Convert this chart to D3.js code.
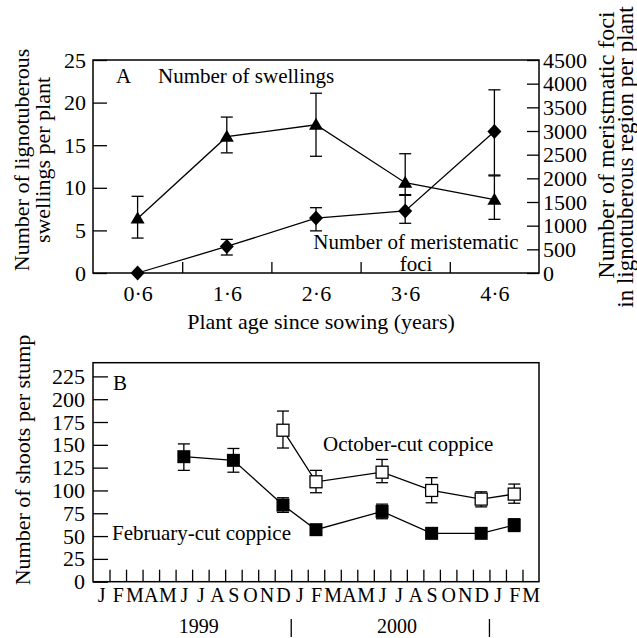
<!DOCTYPE html>
<html>
<head>
<meta charset="utf-8">
<script src="https://cdn.jsdelivr.net/npm/d3@7"></script>
<style>
  body { margin: 0; background: #fff; }
  svg { display: block; font-family: "Liberation Serif", "Times New Roman", serif; }
</style>
</head>
<body>
<svg id="chart" width="637" height="638"></svg>
<script>
// panel A data
var ages = [0.6, 1.6, 2.6, 3.6, 4.6];
var ageLabels = ["0·6", "1·6", "2·6", "3·6", "4·6"];
var swellings = [6.4, 16.0, 17.4, 10.6, 8.6];
var swellLo = [4.1, 14.1, 13.7, 9.2, 6.3];
var swellHi = [9.0, 18.3, 21.1, 14.0, 11.4];
var foci = [0, 560, 1160, 1310, 2990];
var fociLo = [0, 380, 890, 1050, 2070];
var fociHi = [0, 710, 1380, 1640, 3870];

// panel B data
var monthLabels = ["J","F","M","A","M","J","J","A","S","O","N","D",
                   "J","F","M","A","M","J","J","A","S","O","N","D",
                   "J","F","M"];
var years = ["1999", "2000"];
var febDates = ["1999-06","1999-09","1999-12","2000-02","2000-06","2000-09","2000-12","2001-02"];
var febCut = [137, 133, 84, 57, 77, 53, 53, 62];
var febLo  = [122, 120, 76, 54, 69, 51, 51, 55];
var febHi  = [151, 146, 92, 60, 85, 55, 55, 69];
var octDates = ["1999-12","2000-02","2000-06","2000-09","2000-12","2001-02"];
var octCut = [166, 109.5, 120, 100, 90.5, 96];
var octLo  = [146.5, 97.5, 108.5, 86.5, 82, 86];
var octHi  = [187, 122, 134, 114, 98.5, 107];

var svg = d3.select("#chart");
var left = 93, right = 539;

// month index (centre of the month), Jan 1999 = 0
function monthIndex(s) {
  var p = s.split("-").map(Number);
  return (p[0] - 1999) * 12 + (p[1] - 1) + 0.5;
}

function styleAxis(g, size) {
  g.attr("font-family", null).attr("font-size", size);
  g.selectAll("path.domain").remove();
  g.selectAll("line").attr("stroke", "#000").attr("stroke-width", 1.3);
  g.selectAll("text").attr("fill", "#000");
}

function errorBars(g, xs, lo, hi, x, y) {
  var eb = g.append("g").attr("stroke", "#000").attr("stroke-width", 1.3);
  xs.forEach(function(d, i) {
    if (lo[i] === hi[i]) return;
    var cx = x(d);
    eb.append("line").attr("x1", cx).attr("x2", cx).attr("y1", y(lo[i])).attr("y2", y(hi[i]));
    eb.append("line").attr("x1", cx - 6).attr("x2", cx + 6).attr("y1", y(lo[i])).attr("y2", y(lo[i]));
    eb.append("line").attr("x1", cx - 6).attr("x2", cx + 6).attr("y1", y(hi[i])).attr("y2", y(hi[i]));
  });
}

/* ---------- panel A ---------- */
var topA = 60, botA = 273;
var xA = d3.scaleLinear().domain([0.1, 5.1]).range([left, right]);
var yL = d3.scaleLinear().domain([0, 25]).range([botA, topA]);
var yR = d3.scaleLinear().domain([0, 4500]).range([botA, topA]);

var gA = svg.append("g");

gA.append("g").attr("transform", "translate(" + left + ",0)")
  .call(d3.axisLeft(yL).tickValues(d3.range(0, 26, 5)).tickSize(-14).tickPadding(7))
  .call(styleAxis, 22);

gA.append("g").attr("transform", "translate(" + right + ",0)")
  .call(d3.axisRight(yR).tickValues(d3.range(0, 4501, 500)).tickSize(-12).tickPadding(4)
        .tickFormat(d3.format("d")))
  .call(styleAxis, 22);

gA.append("g").attr("transform", "translate(0," + botA + ")")
  .call(d3.axisBottom(xA).tickValues([1.1, 2.1, 3.1, 4.1]).tickSize(-11).tickFormat(""))
  .call(styleAxis, 22);

gA.append("g").attr("transform", "translate(0," + botA + ")")
  .call(d3.axisBottom(xA).tickValues(ages).tickSize(0).tickPadding(12)
        .tickFormat(function(d, i) { return ageLabels[i]; }))
  .call(styleAxis, 22);

gA.append("rect").attr("x", left).attr("y", topA)
  .attr("width", right - left).attr("height", botA - topA)
  .attr("fill", "none").attr("stroke", "#000").attr("stroke-width", 1.5);

// lines
gA.append("path").datum(ages)
  .attr("fill", "none").attr("stroke", "#000").attr("stroke-width", 1.3)
  .attr("d", d3.line().x(function(d) { return xA(d); }).y(function(d, i) { return yL(swellings[i]); }));
gA.append("path").datum(ages)
  .attr("fill", "none").attr("stroke", "#000").attr("stroke-width", 1.3)
  .attr("d", d3.line().x(function(d) { return xA(d); }).y(function(d, i) { return yR(foci[i]); }));

errorBars(gA, ages, swellLo, swellHi, xA, yL);
errorBars(gA, ages, fociLo, fociHi, xA, yR);

gA.selectAll("path.tri").data(ages).enter().append("path")
  .attr("class", "tri")
  .attr("d", "M0,-7L7,5L-7,5Z")
  .attr("transform", function(d, i) { return "translate(" + xA(d) + "," + yL(swellings[i]) + ")"; })
  .attr("fill", "#000");

gA.selectAll("path.dia").data(ages).enter().append("path")
  .attr("class", "dia")
  .attr("d", "M0,-7.5L7,0L0,7.5L-7,0Z")
  .attr("transform", function(d, i) { return "translate(" + xA(d) + "," + yR(foci[i]) + ")"; })
  .attr("fill", "#000");

// labels
gA.append("text").attr("x", 116).attr("y", 83).attr("font-size", 21).text("A");
gA.append("text").attr("x", 158).attr("y", 83).attr("font-size", 21).text("Number of swellings");
gA.append("text").attr("x", 416).attr("y", 249).attr("font-size", 21)
  .attr("text-anchor", "middle").text("Number of meristematic");
gA.append("text").attr("x", 416).attr("y", 271).attr("font-size", 21)
  .attr("text-anchor", "middle").text("foci");

gA.append("text").attr("x", 321).attr("y", 329).attr("font-size", 22)
  .attr("text-anchor", "middle").text("Plant age since sowing (years)");

gA.append("text").attr("transform", "translate(29,160) rotate(-90)")
  .attr("font-size", 22).attr("text-anchor", "middle").text("Number of lignotuberous");
gA.append("text").attr("transform", "translate(50,160) rotate(-90)")
  .attr("font-size", 22).attr("text-anchor", "middle").text("swellings per plant");

gA.append("text").attr("transform", "translate(614,145) rotate(-90)")
  .attr("font-size", 24).attr("text-anchor", "middle").text("Number of meristmatic foci");
gA.append("text").attr("transform", "translate(633,157) rotate(-90)")
  .attr("font-size", 23).attr("text-anchor", "middle").text("in lignotuberous region per plant");

/* ---------- panel B ---------- */
var topB = 362.7, botB = 581.7;
var xB = d3.scaleLinear().domain([0, 27]).range([left, right]);
var yB = d3.scaleLinear().domain([0, 240]).range([botB, topB]);

var gB = svg.append("g");

gB.append("g").attr("transform", "translate(" + left + ",0)")
  .call(d3.axisLeft(yB).tickValues(d3.range(0, 226, 25)).tickSize(-15).tickPadding(8))
  .call(styleAxis, 22);

gB.append("g").attr("transform", "translate(0," + botB + ")")
  .call(d3.axisBottom(xB).tickValues(d3.range(1, 27)).tickSize(-12).tickFormat(""))
  .call(styleAxis, 20);

gB.append("g").attr("transform", "translate(0," + botB + ")")
  .call(d3.axisBottom(xB).tickValues(d3.range(0, 27).map(function(i) { return i + 0.5; }))
        .tickSize(0).tickPadding(6)
        .tickFormat(function(d, i) { return monthLabels[i]; }))
  .call(styleAxis, 20);

gB.append("rect").attr("x", left).attr("y", topB)
  .attr("width", right - left).attr("height", botB - topB)
  .attr("fill", "none").attr("stroke", "#000").attr("stroke-width", 1.5);

// years and separators
years.forEach(function(yr, i) {
  gB.append("text").attr("x", xB(6.4 + 12 * i)).attr("y", 633)
    .attr("font-size", 20).attr("text-anchor", "middle").text(yr);
  gB.append("line").attr("x1", xB(12 * (i + 1))).attr("x2", xB(12 * (i + 1)))
    .attr("y1", 619).attr("y2", 637).attr("stroke", "#000").attr("stroke-width", 1.3);
});

var febX = febDates.map(monthIndex);
var octX = octDates.map(monthIndex);

gB.append("path").datum(febX)
  .attr("fill", "none").attr("stroke", "#000").attr("stroke-width", 1.3)
  .attr("d", d3.line().x(function(d) { return xB(d); }).y(function(d, i) { return yB(febCut[i]); }));
gB.append("path").datum(octX)
  .attr("fill", "none").attr("stroke", "#000").attr("stroke-width", 1.3)
  .attr("d", d3.line().x(function(d) { return xB(d); }).y(function(d, i) { return yB(octCut[i]); }));

errorBars(gB, febX, febLo, febHi, xB, yB);
errorBars(gB, octX, octLo, octHi, xB, yB);

gB.selectAll("rect.feb").data(febX).enter().append("rect")
  .attr("class", "feb")
  .attr("x", function(d) { return xB(d) - 6.5; })
  .attr("y", function(d, i) { return yB(febCut[i]) - 6.5; })
  .attr("width", 13).attr("height", 13).attr("fill", "#000");

gB.selectAll("rect.oct").data(octX).enter().append("rect")
  .attr("class", "oct")
  .attr("x", function(d) { return xB(d) - 6; })
  .attr("y", function(d, i) { return yB(octCut[i]) - 6; })
  .attr("width", 12).attr("height", 12)
  .attr("fill", "#fff").attr("stroke", "#000").attr("stroke-width", 1.3);

gB.append("text").attr("x", 113).attr("y", 390).attr("font-size", 21).text("B");
gB.append("text").attr("x", 112).attr("y", 540).attr("font-size", 21).text("February-cut coppice");
gB.append("text").attr("x", 323).attr("y", 451).attr("font-size", 21).text("October-cut coppice");

gB.append("text").attr("transform", "translate(30,460) rotate(-90)")
  .attr("font-size", 22).attr("text-anchor", "middle").text("Number of shoots per stump");
</script>
</body>
</html>
